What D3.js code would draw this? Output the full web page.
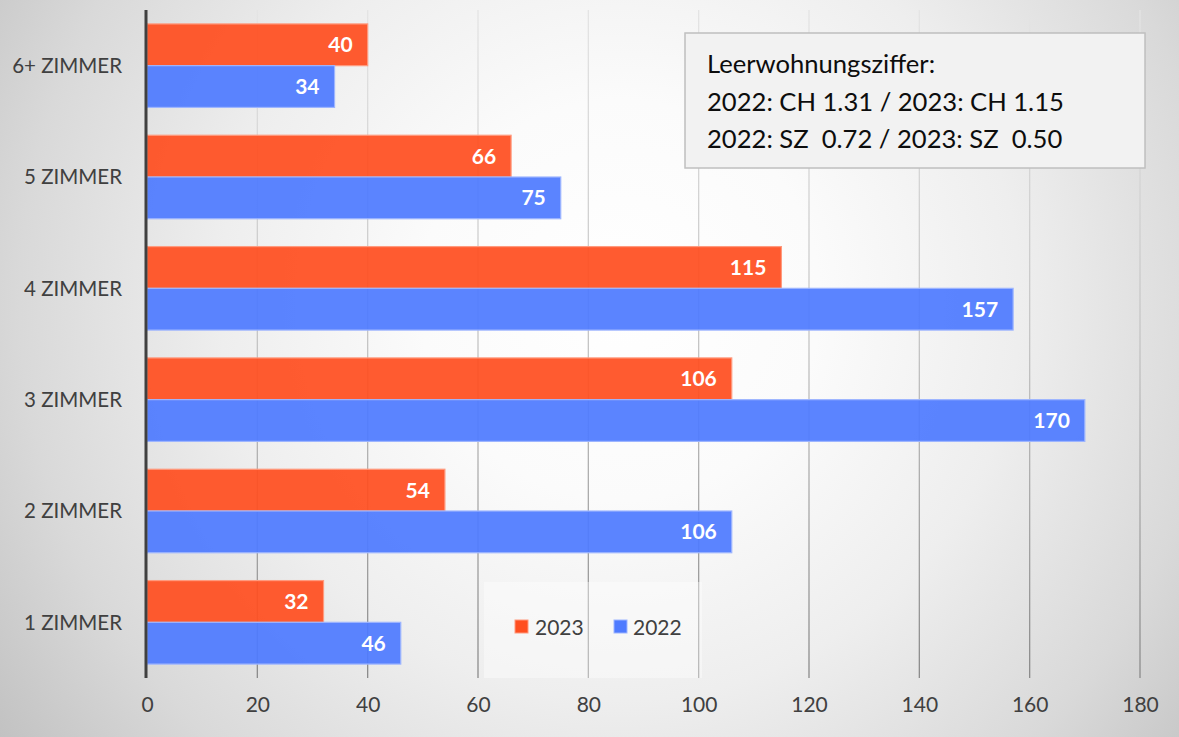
<!DOCTYPE html>
<html><head><meta charset="utf-8">
<script src="https://cdn.jsdelivr.net/npm/d3@7"></script>
<style>html,body{margin:0;padding:0;background:#fff;}svg{display:block;}</style>
</head><body>
<svg id="chart" width="1179" height="737"></svg>
<script>
const categories = ["6+ ZIMMER", "5 ZIMMER", "4 ZIMMER", "3 ZIMMER", "2 ZIMMER", "1 ZIMMER"];
const series = ["2023", "2022"];
const values2023 = [40, 66, 115, 106, 54, 32];
const values2022 = [34, 75, 157, 170, 106, 46];
const xTicks = [0, 20, 40, 60, 80, 100, 120, 140, 160, 180];
const noteLines = ["Leerwohnungsziffer:", "2022: CH 1.31 / 2023: CH 1.15", "2022: SZ\u00A0 0.72 / 2023: SZ\u00A0 0.50"];
const colors = {"2023": "#FF4F20", "2022": "#4F7BFF"};
const strokes = {"2023": "#FF9A7E", "2022": "#9DB5FF"};

const W = 1179, H = 737;
const svg = d3.select("#chart");
const font = "Lato, 'Open Sans', sans-serif";
const defs = svg.append("defs");
const bg = defs.append("radialGradient").attr("id","bg").attr("gradientUnits","userSpaceOnUse")
  .attr("cx",620).attr("cy",300).attr("r",800);
[[0,"#ffffff"],[0.25,"#fbfbfb"],[0.5,"#eeeeee"],[0.75,"#d9d9d9"],[1,"#bcbcbc"]].forEach(s=>
  bg.append("stop").attr("offset",s[0]).attr("stop-color",s[1]));
const gg = defs.append("linearGradient").attr("id","grid").attr("gradientUnits","userSpaceOnUse")
  .attr("x1",0).attr("y1",10).attr("x2",0).attr("y2",678);
gg.append("stop").attr("offset",0).attr("stop-color","#e4e4e4");
gg.append("stop").attr("offset",0.5).attr("stop-color","#c4c4c4");
gg.append("stop").attr("offset",1).attr("stop-color","#8a8a8a");

svg.append("rect").attr("width",W).attr("height",H).attr("fill","url(#bg)");

const x = d3.scaleLinear().domain([0,180]).range([147,1140]);
const y = d3.scaleBand().domain(categories).range([10,678]).paddingInner(0.25).paddingOuter(0.125);
const ys = d3.scaleBand().domain(series).range([0,y.bandwidth()]);

// gridlines
svg.append("g").selectAll("line").data(xTicks.filter(t=>t>0)).join("line")
  .attr("x1",d=>x(d)).attr("x2",d=>x(d)).attr("y1",10).attr("y2",678)
  .attr("stroke","url(#grid)").attr("stroke-width",1.3);

// legend box (behind bars)
const lg = svg.append("g");
lg.append("rect").attr("x",484).attr("y",582).attr("width",218).attr("height",96)
  .attr("fill","#ffffff").attr("fill-opacity",0.4);

const data = categories.map((c,i)=>({cat:c, vals:[{s:"2023",v:values2023[i]},{s:"2022",v:values2022[i]}]}));
const groups = svg.append("g").selectAll("g").data(data).join("g")
  .attr("transform",d=>`translate(0,${y(d.cat)})`);
groups.selectAll("rect").data(d=>d.vals).join("rect")
  .attr("x",x(0)).attr("y",d=>ys(d.s)).attr("width",d=>x(d.v)-x(0)).attr("height",ys.bandwidth())
  .attr("fill",d=>colors[d.s]).attr("fill-opacity",0.93)
  .attr("stroke",d=>strokes[d.s]).attr("stroke-width",1.2);
groups.selectAll("text").data(d=>d.vals).join("text")
  .attr("x",d=>x(d.v)-15).attr("y",d=>ys(d.s)+ys.bandwidth()/2).attr("dy","0.36em")
  .attr("text-anchor","end").attr("fill","#fff").attr("font-family",font)
  .attr("font-weight","bold").attr("font-size",21).text(d=>d.v);

// axis line
svg.append("line").attr("x1",x(0)-1).attr("x2",x(0)-1).attr("y1",10).attr("y2",678)
  .attr("stroke","#404040").attr("stroke-width",3);

// category labels
svg.append("g").selectAll("text").data(categories).join("text")
  .attr("x",122).attr("y",d=>y(d)+y.bandwidth()/2).attr("dy","0.36em")
  .attr("text-anchor","end").attr("fill","#404040").attr("font-family",font).attr("font-size",20.5)
  .text(d=>d);

// x tick labels
const xAxis = d3.axisBottom(x).tickValues(xTicks).tickSize(0).tickPadding(0);
const ax = svg.append("g").attr("transform","translate(0,699)").call(xAxis);
ax.select(".domain").remove();
ax.selectAll("text").attr("font-family",font).attr("font-size",21).attr("fill","#404040").attr("dy","0.6em");

// legend items
const legendPos = [{s:"2023",x:515,tx:535},{s:"2022",x:614,tx:633}];
legendPos.forEach(l=>{
  lg.append("rect").attr("x",l.x).attr("y",620).attr("width",13).attr("height",13)
    .attr("fill",colors[l.s]).attr("stroke",strokes[l.s]).attr("stroke-width",1);
  lg.append("text").attr("x",l.tx).attr("y",627).attr("dy","0.36em").attr("fill","#404040")
    .attr("font-family",font).attr("font-size",21).text(l.s);
});

// annotation box
const nb = svg.append("g");
nb.append("rect").attr("x",685).attr("y",33).attr("width",460).attr("height",135)
  .attr("fill","#f2f2f2").attr("stroke","#bfbfbf").attr("stroke-width",1.5);
nb.selectAll("text").data(noteLines).join("text")
  .attr("x",707).attr("y",(d,i)=>73+i*37.5).attr("fill","#0d0d0d")
  .attr("font-family",font).attr("font-size",25.6).style("white-space","pre").text(d=>d);
</script>
</body></html>
